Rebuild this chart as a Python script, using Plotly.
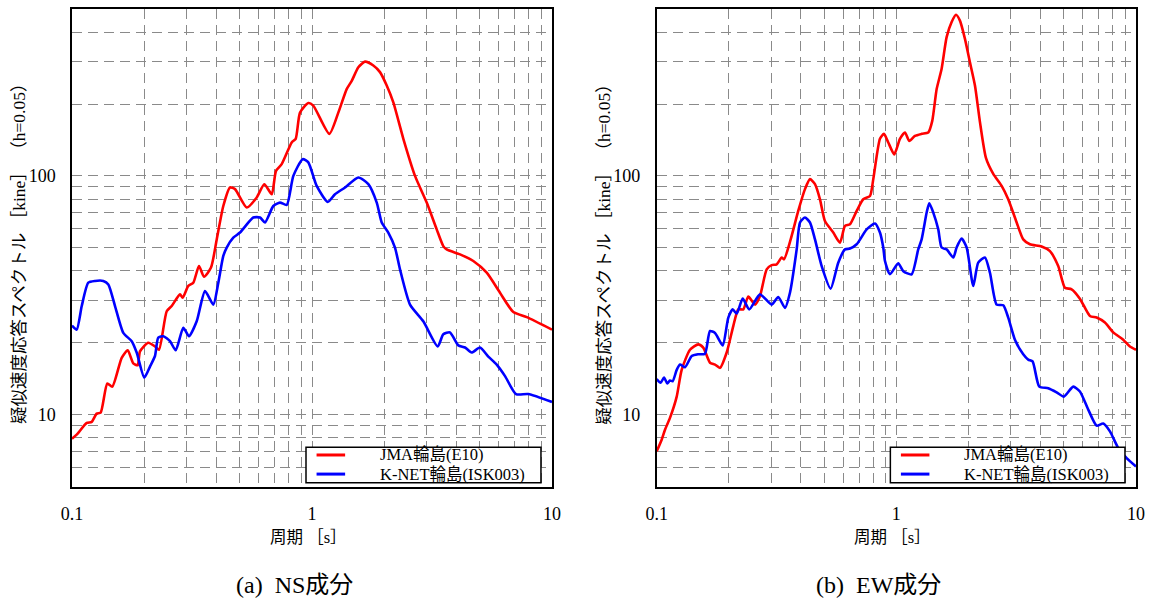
import math
import plotly.graph_objects as go

W, H = 1158, 606

# ---- NS component: pseudo-velocity response spectra (h=0.05) ----
ns_jma_period = [0.100, 0.1046, 0.1152, 0.1208, 0.1267, 0.1317, 0.1403, 0.1472, 0.1611, 0.1707,
                 0.1800, 0.1878, 0.1920, 0.2079, 0.2217, 0.2304, 0.2481, 0.2603, 0.2818, 0.2892,
                 0.3052, 0.3202, 0.3382, 0.3548, 0.3795, 0.4009, 0.4270, 0.4553, 0.4777, 0.5346,
                 0.5884, 0.6328, 0.6796, 0.7079, 0.7478, 0.8230, 0.8553, 0.8913, 0.9652, 1.0125,
                 1.181, 1.287, 1.395, 1.464, 1.560, 1.663, 1.801, 1.920, 2.048, 2.182,
                 2.402, 2.687, 3.006, 3.308, 3.524, 3.641, 4.138, 4.700, 5.346, 6.072,
                 6.900, 7.848, 10.0]
ns_jma_vel = [7.93, 8.24, 9.23, 9.32, 10.1, 10.2, 13.5, 13.1, 17.3, 18.6,
              16.4, 16.1, 18.4, 20.0, 19.3, 18.7, 27.1, 28.5, 31.9, 30.9,
              34.6, 35.7, 41.9, 37.8, 41.3, 54.2, 74.8, 89.4, 88.0, 73.7,
              81.2, 92.3, 83.8, 105, 112, 138, 143, 184, 202, 197,
              150, 184, 231, 250, 285, 301, 290, 272, 239, 203,
              143, 100, 77.3, 59.7, 50.8, 49.2, 46.9, 44.0, 39.3, 32.4,
              26.9, 25.6, 22.7]

ns_knet_period = [0.100, 0.1046, 0.1098, 0.1169, 0.1247, 0.1350, 0.1417, 0.1511, 0.1636, 0.1773,
                  0.1860, 0.2001, 0.2113, 0.2217, 0.2288, 0.2402, 0.2561, 0.2705, 0.2909, 0.3072,
                  0.3308, 0.3583, 0.3880, 0.4071, 0.4270, 0.4412, 0.4700, 0.5012, 0.5693, 0.6072,
                  0.6368, 0.6900, 0.7356, 0.7848, 0.8361, 0.9146, 0.9652, 1.046, 1.163, 1.247,
                  1.373, 1.560, 1.717, 1.861, 1.952, 2.079, 2.217, 2.326, 2.561, 2.909,
                  3.340, 3.524, 3.758, 4.071, 4.341, 4.627, 5.012, 5.428, 5.884, 6.372,
                  7.079, 7.967, 10.0]
ns_knet_vel = [23.6, 22.7, 28.5, 35.7, 36.3, 36.3, 35.1, 28.5, 22.0, 20.3,
               18.2, 14.3, 15.9, 17.6, 21.0, 21.3, 20.3, 18.6, 23.1, 21.3,
               24.6, 32.9, 28.9, 35.7, 46.2, 50.1, 55.1, 57.9, 66.9, 66.9,
               63.8, 74.8, 77.3, 75.6, 100, 117.5, 114, 90.8, 77.8, 83.8,
               89.4, 98.5, 92.3, 77.3, 63.8, 57.9, 50.1, 40.6, 28.9, 24.6,
               19.3, 21.7, 22.1, 19.5, 19.1, 18.2, 19.1, 17.5, 16.2, 14.5,
               12.2, 12.2, 11.3]

# ---- EW component ----
ew_jma_period = [0.100, 0.1049, 0.1083, 0.1136, 0.1212, 0.1271, 0.1377, 0.1491, 0.1564, 0.1669,
                 0.1751, 0.1837, 0.1959, 0.2087, 0.2190, 0.2298, 0.2411, 0.2571, 0.2698, 0.2877,
                 0.3019, 0.3167, 0.3323, 0.3398, 0.3623, 0.3896, 0.4157, 0.4361, 0.4576, 0.4801,
                 0.5036, 0.5455, 0.5817, 0.6105, 0.6405, 0.6831, 0.7276, 0.7762, 0.8012, 0.8543,
                 0.8878, 0.9253, 0.9800, 1.035, 1.086, 1.132, 1.196, 1.275, 1.359, 1.412,
                 1.473, 1.545, 1.621, 1.701, 1.774, 1.842, 1.933, 2.028, 2.128, 2.233,
                 2.365, 2.537, 2.750, 2.930, 3.177, 3.384, 3.609, 4.038, 4.374, 4.737,
                 5.051, 5.386, 5.834, 6.423, 6.850, 7.420, 8.034, 8.845, 9.432, 10.0]
ew_jma_vel = [7.02, 7.85, 8.65, 9.69, 11.9, 15.4, 18.7, 19.7, 19.1, 16.5,
              16.2, 15.7, 18.2, 23.5, 27.6, 27.6, 31.2, 28.9, 31.4, 40.6,
              42.3, 42.6, 45.5, 44.7, 54.2, 71.3, 88.0, 96.9, 92.3, 79.8,
              64.7, 57.9, 52.5, 61.7, 62.7, 71.3, 79.8, 82.4, 96.9, 143,
              150, 138, 123, 143, 152, 140, 147, 150, 152, 170,
              231, 281, 381, 441, 473, 447, 375, 299, 239, 168,
              119, 102, 90.8, 79.8, 63.8, 54.2, 51.7, 50.6, 48.4, 41.9,
              34.0, 33.5, 30.6, 25.9, 25.5, 24.3, 22.1, 20.6, 19.3, 18.7]

ew_knet_period = [0.100, 0.1039, 0.1073, 0.1107, 0.1136, 0.1166, 0.1212, 0.1251, 0.1313, 0.1400,
                  0.1491, 0.1590, 0.1669, 0.1751, 0.1885, 0.1990, 0.2075, 0.2157, 0.2285, 0.2434,
                  0.2698, 0.3019, 0.3216, 0.3430, 0.3598, 0.3838, 0.3962, 0.4157, 0.4361, 0.4576,
                  0.4880, 0.5318, 0.5722, 0.6105, 0.6405, 0.6831, 0.7518, 0.8143, 0.8543, 0.8818,
                  0.8965, 0.9404, 1.018, 1.069, 1.158, 1.234, 1.275, 1.338, 1.372, 1.426,
                  1.496, 1.545, 1.621, 1.728, 1.784, 1.873, 1.965, 2.094, 2.196, 2.342,
                  2.458, 2.621, 2.793, 2.930, 3.125, 3.384, 3.550, 3.703, 3.948, 4.302,
                  4.664, 5.003, 5.470, 5.834, 6.320, 6.850, 7.298, 7.784, 8.431, 9.138, 10.0]
ew_knet_vel = [14.1, 13.6, 14.3, 13.5, 13.9, 13.8, 15.4, 16.2, 15.8, 17.6,
               17.9, 18.0, 22.4, 22.0, 19.5, 25.5, 27.6, 26.5, 30.6, 27.6,
               31.9, 28.9, 31.1, 28.0, 32.4, 49.2, 63.8, 66.9, 63.8, 54.2,
               41.9, 33.7, 43.3, 49.2, 49.6, 51.7, 59.7, 63.2, 57.9, 50.1,
               44.0, 38.7, 43.0, 39.9, 38.7, 49.2, 54.2, 70.2, 76.8, 70.2,
               59.7, 50.1, 49.2, 45.5, 50.1, 54.6, 50.1, 34.6, 43.3, 45.5,
               39.3, 28.9, 28.7, 25.5, 20.6, 17.9, 17.0, 16.7, 13.1, 12.9,
               12.4, 11.9, 13.1, 12.5, 10.5, 8.99, 9.17, 8.51, 7.25, 6.58, 6.07]

series_names = ["JMA輪島(E10)", "K-NET輪島(ISK003)"]
series_colors = ["#ff0000", "#0000ff"]
panel_titles = ["(a)  NS成分", "(b)  EW成分"]

x_grid = [0.1, 0.2, 0.3, 0.4, 0.5, 0.6, 0.7, 0.8, 0.9, 1, 2, 3, 4, 5, 6, 7, 8, 9, 10]
x_labels = {0.1: "0.1", 1: "1", 10: "10"}
y_grid = [6, 7, 8, 9, 10, 20, 30, 40, 50, 60, 70, 80, 90, 100, 200, 300, 400]
y_labels = {10: "10", 100: "100"}

SERIF = "Liberation Serif, Noto Sans CJK JP, serif"
GRID = "#8a8a8a"

panels = [
    ("x", "y", [(ns_jma_period, ns_jma_vel), (ns_knet_period, ns_knet_vel)]),
    ("x2", "y2", [(ew_jma_period, ew_jma_vel), (ew_knet_period, ew_knet_vel)]),
]

fig = go.Figure()
for xa, ya, data in panels:
    for (per, vel), name, color in zip(data, series_names, series_colors):
        fig.add_trace(go.Scatter(
            x=per, y=vel, mode="lines", name=name, xaxis=xa, yaxis=ya,
            line=dict(color=color, width=2.6, shape="spline", smoothing=0.6),
            showlegend=False,
        ))

# plot-area placement in pixels
x_domains = [(72, 552), (656.7, 1136)]
y_top, y_bot = 9, 486.5


def axis_common():
    return dict(
        type="log", showgrid=True, gridcolor=GRID, gridwidth=1, griddash="10px,6px",
        showline=True, mirror=True, linecolor="black", linewidth=1.5,
        ticks="", zeroline=False, automargin=False,
        tickfont=dict(family=SERIF, size=18, color="black"),
    )


layout = dict(
    width=W, height=H, margin=dict(l=0, r=0, t=0, b=0),
    paper_bgcolor="white", plot_bgcolor="white", showlegend=False,
)
for i, (x0, x1) in enumerate(x_domains):
    sfx = "" if i == 0 else str(i + 1)
    xa = axis_common()
    xa.update(domain=[x0 / W, x1 / W], range=[-1, 1], anchor="y" + sfx,
              tickvals=x_grid, ticktext=[x_labels.get(v, "") for v in x_grid],
              ticklabelstandoff=10)
    ya = axis_common()
    ya.update(domain=[1 - y_bot / H, 1 - y_top / H], range=[math.log10(5), math.log10(500)],
              anchor="x" + sfx,
              tickvals=y_grid, ticktext=[y_labels.get(v, "") for v in y_grid],
              ticklabelstandoff=11)
    layout["xaxis" + sfx] = xa
    layout["yaxis" + sfx] = ya

fig.update_layout(**layout)

shapes = []
annotations = []
for i, (x0, x1) in enumerate(x_domains):
    sfx = "" if i == 0 else str(i + 1)
    xd, yd = "x" + sfx + " domain", "y" + sfx + " domain"
    # legend box
    shapes.append(dict(type="rect", xref=xd, yref=yd, x0=0.4875, x1=0.977, y0=0.008, y1=0.082,
                       line=dict(color="black", width=1.5), fillcolor="white", layer="above"))
    for name, color, yy in zip(series_names, series_colors, [0.066, 0.026]):
        shapes.append(dict(type="line", xref=xd, yref=yd, x0=0.5095, x1=0.569, y0=yy, y1=yy,
                           line=dict(color=color, width=3), layer="above"))
        annotations.append(dict(text=name, xref=xd, yref=yd, x=0.640, y=yy,
                                xanchor="left", yanchor="middle", showarrow=False, borderpad=0,
                                font=dict(family=SERIF, size=16.5, color="black")))
    cx = (x0 + x1) / 2
    # axis titles
    annotations.append(dict(text="周期 ［s］", xref="paper", yref="paper", x=(cx - 4) / W,
                            y=1 - 537 / H, xanchor="center", yanchor="middle", showarrow=False,
                            font=dict(family=SERIF, size=16.5, color="black")))
    annotations.append(dict(text="疑似速度応答スペクトル ［kine］ （h=0.05）", xref="paper",
                            yref="paper", x=(x0 - 53) / W, y=1 - 250 / H, textangle=-90,
                            xanchor="center", yanchor="middle", showarrow=False,
                            font=dict(family=SERIF, size=17.5, color="black")))
    # panel caption
    annotations.append(dict(text=panel_titles[i], xref="paper", yref="paper", x=(cx - 18) / W,
                            y=1 - 585 / H, xanchor="center", yanchor="middle", showarrow=False,
                            font=dict(family=SERIF, size=24, color="black")))

fig.update_layout(shapes=shapes, annotations=annotations)
fig.write_html("out.html")
